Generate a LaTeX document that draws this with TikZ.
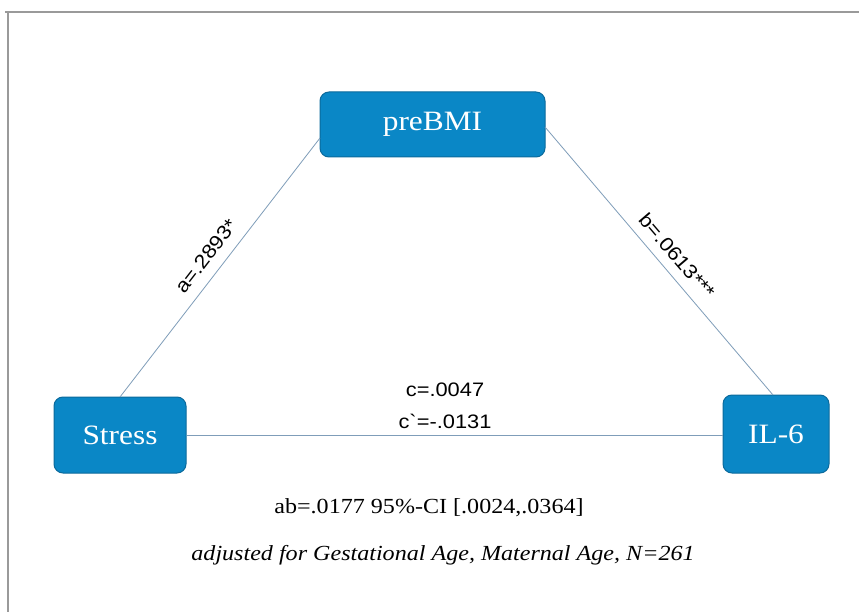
\documentclass[tikz,border=0pt]{standalone}
\usepackage{fontspec}
\setmainfont{Liberation Serif}
\newfontfamily\arialfont{Liberation Sans}
\newcommand{\wide}[1]{\scalebox{1.12}[1]{#1}}
\definecolor{boxfill}{HTML}{0A87C6}
\definecolor{boxedge}{HTML}{0B6A9C}
\definecolor{linecol}{HTML}{7F9DB9}
\definecolor{framecol}{HTML}{9A9A9A}
\tikzset{
  varbox/.style={draw=boxedge, line width=1pt, fill=boxfill, rounded corners=9pt, text=white,
    font=\fontsize{28}{30}\selectfont},
  path/.style={draw=linecol, line width=0.8pt},
  coef/.style={font=\arialfont\fontsize{19.5}{21}\selectfont, inner sep=0pt},
  note/.style={font=\fontsize{21.5}{23}\selectfont, inner sep=1pt}
}
\begin{document}
\begin{tikzpicture}[x=1pt,y=-1pt]
\useasboundingbox (0,0) rectangle (859,612);
\fill[white] (0,0) rectangle (859,612);
\draw[framecol, line width=2pt] (5,12) -- (859,12);
\draw[framecol, line width=2pt] (8,12) -- (8,612);

\node[varbox, minimum width=225pt, minimum height=65pt] (pre) at (432.5,124.5) {\wide{preBMI}};
\node[varbox, minimum width=132pt, minimum height=76pt] (str) at (120,435) {\wide{Stress}};
\node[varbox, minimum width=106pt, minimum height=78pt] (il) at (776,434) {\wide{IL-6}};

\coordinate (sa) at (120,397);
\coordinate (pa) at (320,138);
\coordinate (pb) at (545,127);
\coordinate (ib) at (773,395);
\draw[path] (sa) -- (pa);
\draw[path] (pb) -- (ib);
\draw[path] (str.east |- 0,435) -- (il.west |- 0,435);

\node[coef, rotate=52.3] (la) at (206,256) {\wide{a=.2893*}};
\node[coef, rotate=-49.4] (lb) at (677,256) {\wide{b=.0613***}};
\node[coef] (lc) at (445,390) {\wide{c=.0047}};
\node[coef] (lc2) at (445,421) {\wide{c`=-.0131}};

\node[note] (ab) at (429,508) {\wide{ab=.0177 95\%-CI [.0024,.0364]}};
\node[note, font=\itshape\fontsize{21.5}{23}\selectfont] (adj) at (443,555) {\wide{adjusted for Gestational Age, Maternal Age, N=261}};
\end{tikzpicture}
\end{document}
